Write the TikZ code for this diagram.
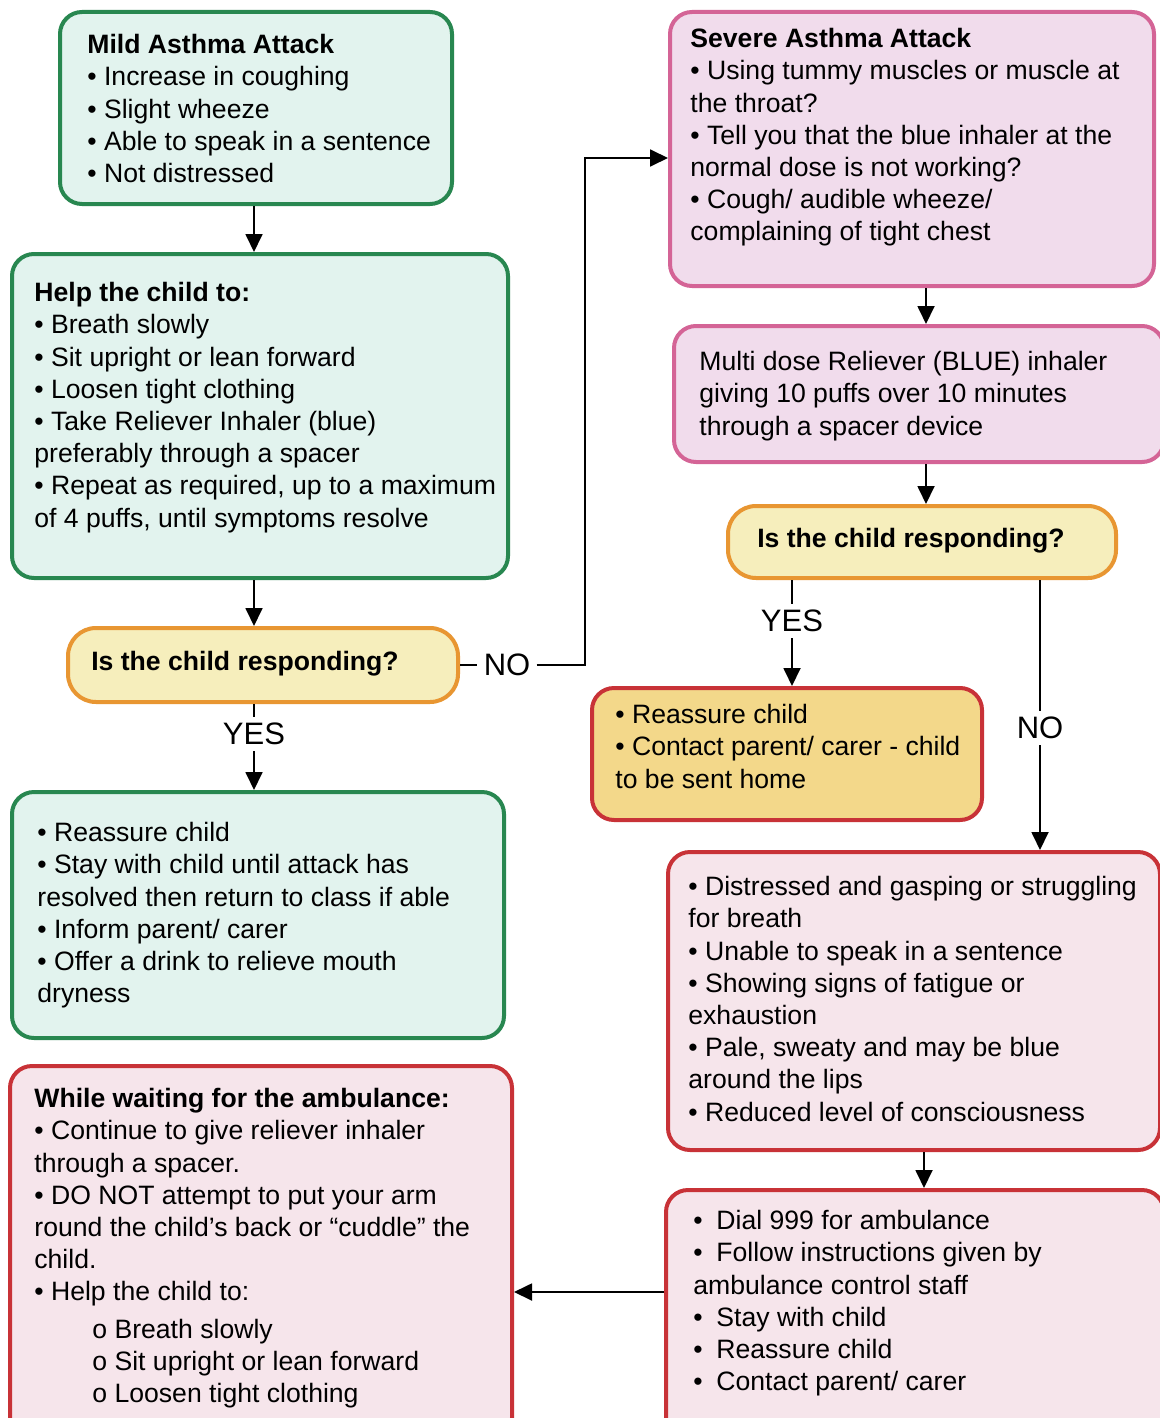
\documentclass[tikz,border=0pt]{standalone}
\usepackage{fontspec}
\setmainfont{Liberation Sans}
\usetikzlibrary{arrows.meta,calc}
\definecolor{gBorder}{RGB}{40,135,80}
\definecolor{gFill}{RGB}{226,243,238}
\definecolor{pBorder}{RGB}{212,100,150}
\definecolor{pFill}{RGB}{241,220,236}
\definecolor{dBorder}{RGB}{232,150,50}
\definecolor{dFill}{RGB}{246,238,188}
\definecolor{yFill}{RGB}{243,216,138}
\definecolor{rBorder}{RGB}{200,50,55}
\definecolor{rFill}{RGB}{246,229,235}
\tikzset{
  boxbase/.style={rounded corners=11pt, line width=2pt, inner sep=0pt},
  greenbox/.style={boxbase, draw=gBorder, fill=gFill},
  pinkbox/.style={boxbase, draw=pBorder, fill=pFill},
  decbox/.style={boxbase, rounded corners=14pt, draw=dBorder, fill=dFill},
  yellowbox/.style={boxbase, draw=rBorder, fill=yFill},
  redbox/.style={boxbase, draw=rBorder, fill=rFill},
  txt/.style={anchor=north west, inner sep=0pt, align=left, font=\fontsize{13.3}{16.1}\selectfont},
  dectxt/.style={inner sep=0pt, font=\fontsize{13.3}{16}\selectfont\bfseries},
  lab/.style={inner sep=3pt, font=\fontsize{15.5}{18}\selectfont},
  conn/.style={draw=black, line width=0.9pt},
  arr/.style={conn, -{Triangle[width=8.5pt,length=9pt]}}
}
\begin{document}
\begin{tikzpicture}[x=0.5pt,y=-0.5pt]
\clip (0,0) rectangle (1160,1418);
\fill[white] (0,0) rectangle (1160,1418);

% ---- boxes ----
\node[greenbox, minimum width=196pt, minimum height=96pt] (mild) at (256,108) {};
\node[greenbox, minimum width=248pt, minimum height=162pt] (help) at (260,416) {};
\node[decbox, minimum width=195pt, minimum height=37pt] (decL) at (263,665) {};
\node[greenbox, minimum width=246pt, minimum height=123pt] (gR) at (258,915) {};
\node[redbox, minimum width=251pt, minimum height=187pt] (wait) at (261,1253) {};
\node[pinkbox, minimum width=242pt, minimum height=137pt] (sev) at (912,149) {};
\node[pinkbox, minimum width=245pt, minimum height=68pt] (multi) at (919,394) {};
\node[decbox, minimum width=194pt, minimum height=36pt] (decR) at (922,542) {};
\node[yellowbox, minimum width=195pt, minimum height=66pt] (reR) at (787,754) {};
\node[redbox, minimum width=246pt, minimum height=149pt] (dist) at (914,1001) {};
\node[redbox, minimum width=249pt, minimum height=125pt] (dial) at (915,1315) {};

% ---- texts ----
\node[txt] (tmild) at (87,34) {\textbf{Mild Asthma Attack}\\
• Increase in coughing\\
• Slight wheeze\\
• Able to speak in a sentence\\
• Not distressed};

\node[txt] (thelp) at (34,282) {\textbf{Help the child to:}\\
• Breath slowly\\
• Sit upright or lean forward\\
• Loosen tight clothing\\
• Take Reliever Inhaler (blue)\\
preferably through a spacer\\
• Repeat as required, up to a maximum\\
of 4 puffs, until symptoms resolve};

\node[dectxt] (tdecL) at (245,664) {Is the child responding?};

\node[txt] (tgR) at (37,822) {• Reassure child\\
• Stay with child until attack has\\
resolved then return to class if able\\
• Inform parent/ carer\\
• Offer a drink to relieve mouth\\
dryness};

\node[txt] (twait) at (34,1088) {\textbf{While waiting for the ambulance:}\\
• Continue to give reliever inhaler\\
through a spacer.\\
• DO NOT attempt to put your arm\\
round the child’s back or “cuddle” the\\
child.\\
• Help the child to:\\[2.5pt]
\hspace*{29pt}o Breath slowly\\
\hspace*{29pt}o Sit upright or lean forward\\
\hspace*{29pt}o Loosen tight clothing};

\node[txt] (tsev) at (690,28) {\textbf{Severe Asthma Attack}\\
• Using tummy muscles or muscle at\\
the throat?\\
• Tell you that the blue inhaler at the\\
normal dose is not working?\\
• Cough/ audible wheeze/\\
complaining of tight chest};

\node[txt] (tmulti) at (699,351) {Multi dose Reliever (BLUE) inhaler\\
giving 10 puffs over 10 minutes\\
through a spacer device};

\node[dectxt] (tdecR) at (911,541) {Is the child responding?};

\node[txt] (treR) at (615,704) {• Reassure child\\
• Contact parent/ carer - child\\
to be sent home};

\node[txt] (tdist) at (688,876) {• Distressed and gasping or struggling\\
for breath\\
• Unable to speak in a sentence\\
• Showing signs of fatigue or\\
exhaustion\\
• Pale, sweaty and may be blue\\
around the lips\\
• Reduced level of consciousness};

\node[txt] (tdial) at (693,1210) {\makebox[11.5pt][l]{•}Dial 999 for ambulance\\
\makebox[11.5pt][l]{•}Follow instructions given by\\
ambulance control staff\\
\makebox[11.5pt][l]{•}Stay with child\\
\makebox[11.5pt][l]{•}Reassure child\\
\makebox[11.5pt][l]{•}Contact parent/ carer};

% ---- labels ----
\node[lab] (yesL) at (254,734) {YES};
\node[lab] (noL) at (507,665) {NO};
\node[lab] (yesR) at (792,621) {YES};
\node[lab] (noR) at (1040,728) {NO};

% ---- helper coordinates ----
\coordinate (xa) at (254,0);
\coordinate (xb) at (926,0);
\coordinate (xc) at (792,0);
\coordinate (xd) at (1040,0);
\coordinate (xe) at (924,0);
\coordinate (nb) at (585,665);
\coordinate (ya) at (0,158);
\coordinate (yb) at (0,1292);

% ---- connectors ----
\draw[arr] (mild.south -| xa) -- (help.north -| xa);
\draw[arr] (help.south -| xa) -- (decL.north -| xa);
\draw[conn] (decL.south -| xa) -- (yesL.north);
\draw[arr] (yesL.south) -- (gR.north -| xa);
\draw[conn] (decL.east) -- (noL.west);
\draw[arr] (noL.east) -- (nb) |- (sev.west |- ya);
\draw[arr] (sev.south -| xb) -- (multi.north -| xb);
\draw[arr] (multi.south -| xb) -- (decR.north -| xb);
\draw[conn] (decR.south -| xc) -- (yesR.north);
\draw[arr] (yesR.south) -- (reR.north -| xc);
\draw[conn] (decR.south -| xd) -- (noR.north);
\draw[arr] (noR.south) -- (dist.north -| xd);
\draw[arr] (dist.south -| xe) -- (dial.north -| xe);
\draw[arr] (dial.west |- yb) -- (wait.east |- yb);
\end{tikzpicture}
\end{document}
